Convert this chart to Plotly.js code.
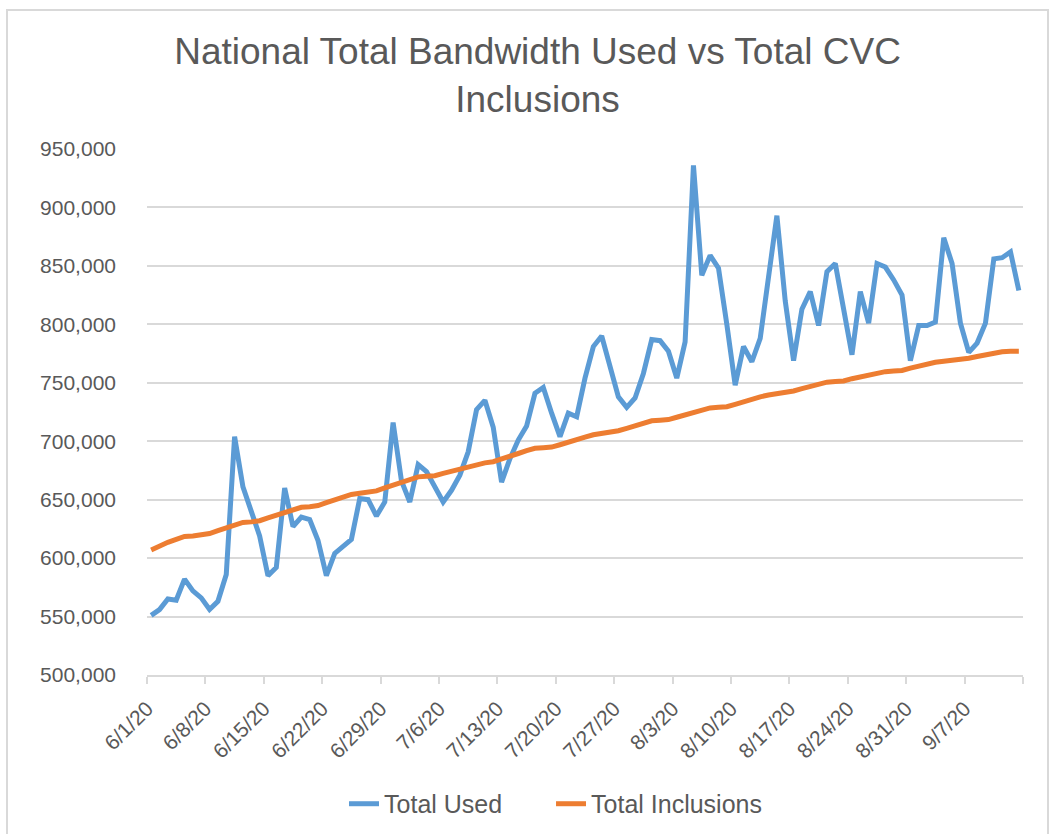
<!DOCTYPE html>
<html>
<head>
<meta charset="utf-8">
<script src="https://cdn.plot.ly/plotly-3.0.1.min.js"></script>
<style>
  html, body { margin: 0; padding: 0; background: #ffffff; }
  #wrap { position: relative; width: 1054px; height: 834px; overflow: hidden; }
  #chart { position: absolute; left: 0; top: 0; width: 1054px; height: 834px; }
  #frame { position: absolute; left: 6px; top: 9px; width: 1043px; height: 840px;
           border: 2px solid #d9d9d9; pointer-events: none; box-sizing: border-box; }
</style>
</head>
<body>
<div id="wrap">
  <div id="chart"></div>
  <div id="frame"></div>
</div>
<script>
// ---- Data (values in thousands) ----
const startDate = '2020-06-01';
const dayCount = 105;

const totalUsedK = [
  551, 556, 565, 564, 582, 572, 566, 556, 563, 586,
  704, 661, 640, 619, 585, 592, 660, 627, 635, 633,
  615, 585, 604, 610, 616, 651, 650, 636, 648, 716,
  666, 648, 680, 674, 661, 648, 658, 671, 691, 727,
  735, 712, 665, 685, 701, 713, 741, 746, 724, 704,
  724, 721, 754, 781, 790, 764, 738, 729, 737, 758,
  787, 786, 777, 754, 785, 936, 842, 859, 848, 800,
  748, 781, 768, 788, 842, 893, 820, 769, 813, 828,
  799, 845, 852, 812, 774, 828, 801, 852, 849, 838,
  825, 769, 799, 799, 802, 874, 852, 801, 776, 784,
  801, 856, 857, 862, 829
];

const totalInclusionsK = [
  607, 610.5, 613.5, 616, 618.5, 619, 619.5, 621, 623.5, 626,
  628.5, 630.5, 631, 632, 634.5, 637, 639, 642, 643.5, 644,
  645, 647.5, 650, 652, 654.5, 655.5, 656, 657.5, 660, 662.5,
  665, 667.5, 669.5, 670, 670.5, 672.5, 674.5, 676, 678.5, 680.5,
  681.5, 682.5, 684.5, 686.5, 689.5, 692, 694, 694.5, 695, 697,
  699.5, 701.5, 703.5, 705.5, 706.5, 707, 709, 711, 713.5, 716,
  717.5, 718, 718.5, 720.5, 722.5, 724.5, 726.5, 728.5, 729, 729.5,
  731.5, 734, 736, 738, 739.5, 740.5, 741, 743, 745, 747,
  749, 750.5, 751, 751.5, 753.5, 755, 757, 758.5, 759.5, 760,
  760.5, 762.5, 764.5, 766, 767.5, 768.5, 769, 769.5, 771, 772.5,
  774, 775.5, 776.5, 777, 777
];

const tickDates = [
  '2020-06-01', '2020-06-08', '2020-06-15', '2020-06-22', '2020-06-29',
  '2020-07-06', '2020-07-13', '2020-07-20', '2020-07-27', '2020-08-03',
  '2020-08-10', '2020-08-17', '2020-08-24', '2020-08-31', '2020-09-07',
  '2020-09-14'
];
const tickLabels = [
  '6/1/20', '6/8/20', '6/15/20', '6/22/20', '6/29/20',
  '7/6/20', '7/13/20', '7/20/20', '7/27/20', '8/3/20',
  '8/10/20', '8/17/20', '8/24/20', '8/31/20', '9/7/20',
  ''
];

const seriesNames = ['Total Used', 'Total Inclusions'];
const seriesColors = ['#5b9bd5', '#ed7d31'];

// ---- Build daily x positions (each day centred between its tick marks) ----
function pad(n) { return (n < 10 ? '0' : '') + n; }
const dates = [];
{
  const base = new Date(startDate + 'T12:00:00Z');
  for (let i = 0; i < dayCount; i++) {
    const d = new Date(base.getTime() + i * 86400000);
    dates.push(d.getUTCFullYear() + '-' + pad(d.getUTCMonth() + 1) + '-' + pad(d.getUTCDate()) + ' 12:00');
  }
}
const totalUsed = totalUsedK.map(v => v * 1000);
const totalInclusions = totalInclusionsK.map(v => v * 1000);

const FONT = 'Liberation Sans, Arial, sans-serif';
const TXT = '#595959';

const traces = [
  { x: dates, y: totalUsed, name: seriesNames[0], type: 'scatter', mode: 'lines',
    legend: 'legend',
    line: { color: seriesColors[0], width: 5 } },
  { x: dates, y: totalInclusions, name: seriesNames[1], type: 'scatter', mode: 'lines',
    legend: 'legend2',
    line: { color: seriesColors[1], width: 5 } }
];

const legendStyle = {
  orientation: 'h',
  xref: 'container', xanchor: 'left',
  yref: 'container', y: 0.036, yanchor: 'middle',
  font: { family: FONT, size: 25, color: TXT },
  bgcolor: 'rgba(0,0,0,0)'
};

const layout = {
  width: 1054, height: 834,
  margin: { l: 147, r: 31, t: 149, b: 159 },
  paper_bgcolor: '#ffffff', plot_bgcolor: '#ffffff',
  font: { family: FONT, color: TXT, size: 21 },
  title: {
    text: 'National Total Bandwidth Used vs Total CVC<br>Inclusions',
    font: { family: FONT, size: 37, color: TXT },
    xref: 'container', x: 0.51, xanchor: 'center',
    yref: 'container', y: 0.923, yanchor: 'middle'
  },
  xaxis: {
    type: 'date',
    range: ['2020-06-01', '2020-09-14'],
    tickvals: tickDates, ticktext: tickLabels,
    tickangle: -45,
    tickfont: { family: FONT, size: 21, color: TXT },
    ticklabelstandoff: 4,
    automargin: false,
    showgrid: false,
    showline: true, linecolor: '#d9d9d9', linewidth: 2,
    ticks: 'outside', ticklen: 7, tickwidth: 2, tickcolor: '#d9d9d9',
    zeroline: false, fixedrange: true
  },
  yaxis: {
    range: [500000, 950000],
    dtick: 50000, tick0: 500000,
    tickformat: ',d',
    tickfont: { family: FONT, size: 21, color: TXT },
    automargin: false,
    showgrid: true, gridcolor: '#d9d9d9', gridwidth: 2,
    showline: false, zeroline: false, ticks: '',
    ticklabelstandoff: 30,
    fixedrange: true
  },
  showlegend: true,
  legend: Object.assign({}, legendStyle, { x: 0.3264 }),
  legend2: Object.assign({}, legendStyle, { x: 0.5228 })
};

Plotly.newPlot('chart', traces, layout, { displayModeBar: false, staticPlot: true });
</script>
</body>
</html>
